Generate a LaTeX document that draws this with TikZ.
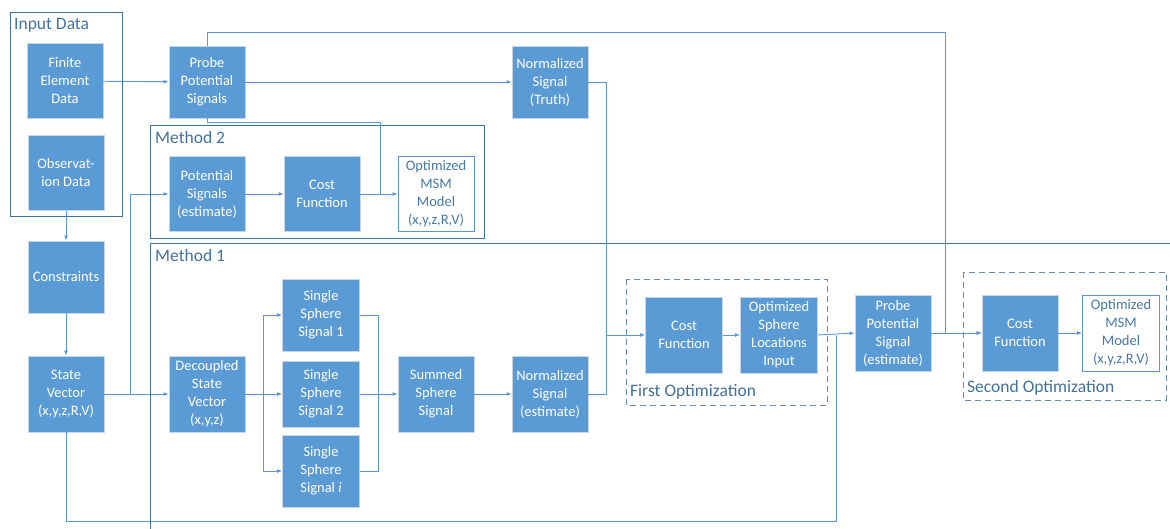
\documentclass[tikz,border=0pt]{standalone}
\usepackage{fontspec}
\setmainfont{Carlito}
\usetikzlibrary{arrows.meta}

\definecolor{boxblue}{RGB}{91,155,213}
\definecolor{edgeblue}{RGB}{65,113,156}
\definecolor{lineblue}{RGB}{91,150,210}
\definecolor{rimgray}{RGB}{200,214,230}

\tikzset{
    blk/.style={draw=rimgray, line width=0.8pt, fill=boxblue, text=white,
        minimum width=76pt, minimum height=75pt, inner sep=0pt,
        align=center, font=\fontsize{14.5}{18}\selectfont},
    outbox/.style={blk, fill=white, draw=lineblue, text=edgeblue!80!boxblue},
    group/.style={draw=edgeblue, line width=0.9pt},
    optgroup/.style={draw=edgeblue!80, line width=0.9pt, dash pattern=on 6pt off 4pt},
    grouplabel/.style={text=edgeblue, inner sep=0pt, font=\fontsize{17.5}{20}\selectfont},
    conn/.style={draw=lineblue, line width=0.9pt},
    arr/.style={conn, -{Latex[length=5pt,width=4pt]}}
}

\begin{document}
\begin{tikzpicture}[x=1pt, y=-1pt]
    \useasboundingbox (0,0) rectangle (1170,529);

    % groups
    \draw[group] (10,12) rectangle (122,216);
    \node[grouplabel, anchor=north west] (tin) at (14,18) {Input Data};
    \draw[group] (150,125) rectangle (484,238);
    \node[grouplabel, anchor=north west] (tm2) at (155,131) {Method 2};
    \draw[group] (1170,243) -- (150,243) -- (150,529);
    \node[grouplabel, anchor=north west] (tm1) at (155,249) {Method 1};
    \draw[optgroup] (626,279) rectangle (827,405);
    \node[grouplabel, anchor=south west] (tfo) at (630,400) {First Optimization};
    \draw[optgroup] (963,272) rectangle (1166,400);
    \node[grouplabel, anchor=south west] (tso) at (967,396) {Second Optimization};

    % blocks
    \node[blk] (fe) at (65,81) {Finite\\Element\\Data};
    \node[blk] (obs) at (66,173) {Observat-\\ion Data};
    \node[blk, minimum height=72pt] (pps) at (207,82) {Probe\\Potential\\Signals};
    \node[blk, minimum height=72pt] (truth) at (550,82) {Normalized\\Signal\\(Truth)};
    \node[blk] (pse) at (207,194) {Potential\\Signals\\(estimate)};
    \node[blk] (cfa) at (322,194) {Cost\\Function};
    \node[outbox] (msma) at (436,194) {Optimized\\MSM\\Model\\(x,y,z,R,V)};
    \node[blk, minimum height=72pt] (con) at (66,277) {Constraints};
    \node[blk, minimum height=76pt] (sv) at (66,394) {State\\Vector\\(x,y,z,R,V)};
    \node[blk, minimum height=76pt] (dsv) at (207,394) {Decoupled\\State\\Vector\\(x,y,z)};
    \node[blk, minimum width=77pt, minimum height=72pt] (ssa) at (321,315) {Single\\Sphere\\Signal 1};
    \node[blk, minimum width=77pt, minimum height=66pt] (ssb) at (321,394) {Single\\Sphere\\Signal 2};
    \node[blk, minimum width=77pt, minimum height=72pt] (ssi) at (321,471) {Single\\Sphere\\Signal \textit{i}};
    \node[blk, minimum height=76pt] (sum) at (436,394) {Summed\\Sphere\\Signal};
    \node[blk, minimum height=76pt] (nest) at (550,394) {Normalized\\Signal\\(estimate)};
    \node[blk, minimum width=77pt, minimum height=76pt] (cfb) at (684,335) {Cost\\Function};
    \node[blk, minimum width=77pt, minimum height=76pt] (osl) at (779,335) {Optimized\\Sphere\\Locations\\Input};
    \node[blk, minimum height=76pt] (ppe) at (893,333) {Probe\\Potential\\Signal\\(estimate)};
    \node[blk, minimum height=76pt] (cfc) at (1020,333) {Cost\\Function};
    \node[outbox, minimum width=77pt, minimum height=76pt] (msmb) at (1121,333) {Optimized\\MSM\\Model\\(x,y,z,R,V)};

    % junctions
    \coordinate (top) at (945,32);
    \coordinate (mid) at (380,194);
    \coordinate (sb) at (130,394);
    \coordinate (low) at (836,521);
    \coordinate (fan) at (263,394);
    \coordinate (fin) at (378,394);
    \coordinate (nj) at (606,335);

    % connectors
    \draw[arr] (fe) -- (pps);
    \draw[arr] (pps) -- (truth);
    \draw[arr] (pps.north) |- (top) |- (cfc.west);
    \draw[conn] (pps.south) -- ++(0,4) -| (mid);
    \draw[arr] (obs) -- (con);
    \draw[arr] (con) -- (sv);
    \draw[arr] (sv) -- (dsv);
    \draw[arr] (sb) |- (pse.west);
    \draw[arr] (pse) -- (cfa);
    \draw[arr] (cfa) -- (msma);
    \draw[conn] (sv.south) |- (low) -- (low |- osl.east);
    \draw[arr] (dsv) -- (ssb);
    \draw[arr] (fan) |- (ssa.west);
    \draw[arr] (fan) |- (ssi.west);
    \draw[conn] (ssa.east) -| (fin);
    \draw[conn] (ssi.east) -| (fin);
    \draw[arr] (ssb) -- (sum);
    \draw[arr] (sum) -- (nest);
    \draw[conn] (truth.east) -| (nj);
    \draw[conn] (nest.east) -| (nj);
    \draw[arr] (nj) -- (cfb.west);
    \draw[arr] (cfb) -- (osl);
    \draw[arr] (osl.east) -- (ppe.west);
    \draw[arr] (ppe) -- (cfc);
    \draw[arr] (cfc) -- (msmb);
\end{tikzpicture}
\end{document}
